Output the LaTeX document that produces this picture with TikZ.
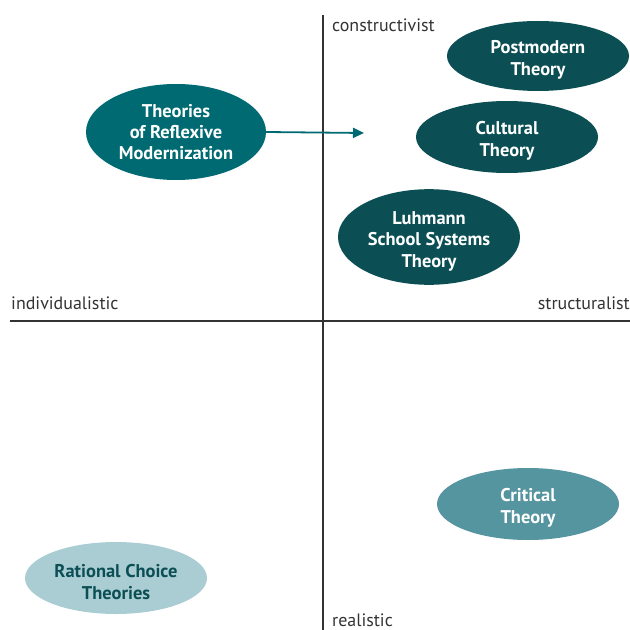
\documentclass[tikz,border=0pt]{standalone}
\usepackage{fontspec}
\setmainfont{PT Sans}
\usetikzlibrary{shapes,arrows.meta}

\definecolor{darkteal}{HTML}{0B4F55}
\definecolor{midteal}{HTML}{006A72}
\definecolor{lightteal}{HTML}{5595A0}
\definecolor{paleteal}{HTML}{AACDD3}
\definecolor{axisgray}{HTML}{333333}

\newcommand{\lift}{\rule{0pt}{21bp}}

\begin{document}
\begin{tikzpicture}[x=1bp,y=-1bp]
	\tikzstyle{every node}+=[inner sep=0pt]
	\tikzstyle{theory}=[ellipse, minimum width=182bp, minimum height=72bp, align=center, font=\fontsize{18.5}{21.5}\selectfont\bfseries, text=white]
	\tikzstyle{axislabel}=[font=\fontsize{18}{20}\selectfont, text=axisgray]
	\useasboundingbox (0,0) rectangle (630,630);
	% axes
	\draw [axisgray, line width=1.1pt] (323,15) -- (323,630);
	\draw [axisgray, line width=1.1pt] (10,321) -- (630,321);
	\node [axislabel, anchor=west] (cons) at (332,25) {constructivist};
	\node [axislabel, anchor=west] (indiv) at (11,303) {individualistic};
	\node [axislabel, anchor=east] (struc) at (630,303) {structuralist};
	\node [axislabel, anchor=west] (real) at (332,620) {realistic};
	% theories
	\node [theory, fill=midteal, minimum height=96bp, minimum width=180bp] (reflex) at (176,132) {Theories\\of Reflexive\\Modernization};
	\node [theory, fill=darkteal, minimum height=70bp] (postmod) at (538,56) {\lift Postmodern\\Theory};
	\node [theory, fill=darkteal] (cultural) at (507,137) {\lift Cultural\\Theory};
	\node [theory, fill=darkteal, minimum height=90bp] (luhmann) at (429,237) {\lift Luhmann\\School Systems\\Theory};
	\node [theory, fill=lightteal] (critical) at (528,504) {\lift Critical\\Theory};
	\node [theory, fill=paleteal, text=darkteal] (rational) at (116,578) {\lift Rational Choice\\Theories};
	% arrow
	\coordinate (tip) at (364,133);
	\draw [midteal, line width=1.8pt, -{Triangle[length=11bp,width=10bp]}] (reflex.east) -- (tip);
\end{tikzpicture}
\end{document}
